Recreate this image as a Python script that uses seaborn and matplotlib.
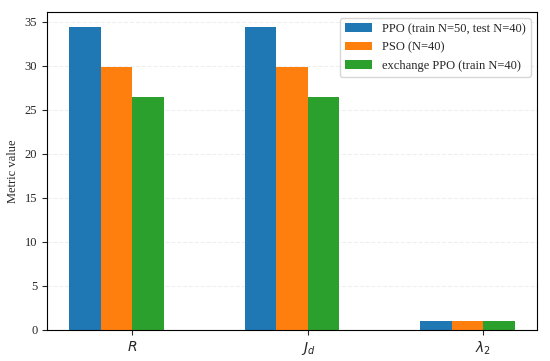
import matplotlib
matplotlib.use("Agg")
import matplotlib.pyplot as plt
import seaborn as sns
import pandas as pd

metrics = [r"$R$", r"$J_d$", r"$\lambda_2$"]
methods = ["PPO (train N=50, test N=40)", "PSO (N=40)", "exchange PPO (train N=40)"]
ppo_vals = [34.4, 34.4, 1.0]
pso_vals = [29.9, 29.9, 1.0]
xppo_vals = [26.4, 26.4, 1.0]
colors = ["#1f77b4", "#ff7f0e", "#2ca02c"]

rows = []
for m, vals in zip(methods, [ppo_vals, pso_vals, xppo_vals]):
    for k, v in zip(metrics, vals):
        rows.append({"metric": k, "method": m, "value": v})
df = pd.DataFrame(rows)

sns.set_style("ticks")
plt.rcParams["font.family"] = ["Liberation Serif", "DejaVu Serif"]
plt.rcParams["mathtext.fontset"] = "dejavusans"
plt.rcParams["font.size"] = 9

fig = plt.figure(figsize=(5.5, 3.61), dpi=100)
ax = fig.add_axes([0.0855, 0.086, 0.891, 0.881])
sns.barplot(data=df, x="metric", y="value", hue="method", palette=colors,
            width=0.54, saturation=1, ax=ax, errorbar=None, linewidth=0)

ax.set_xticks([0.09, 1.09, 2.09])
ax.set_xticklabels(metrics, fontsize=10)
ax.set_xlim(-0.397, 2.397)
ax.set_ylim(0, 36.1)
ax.set_xlabel("")
ax.set_ylabel("Metric value", fontsize=9)
ax.tick_params(axis="y", labelsize=9)
ax.yaxis.grid(True, linestyle="--", alpha=0.3)
ax.set_axisbelow(True)
for s in ax.spines.values():
    s.set_visible(True)
    s.set_color("black")
leg = ax.legend(loc="upper right", fontsize=9, handlelength=2.2)
leg.set_title(None)
fig.savefig("out.png", dpi=100)
